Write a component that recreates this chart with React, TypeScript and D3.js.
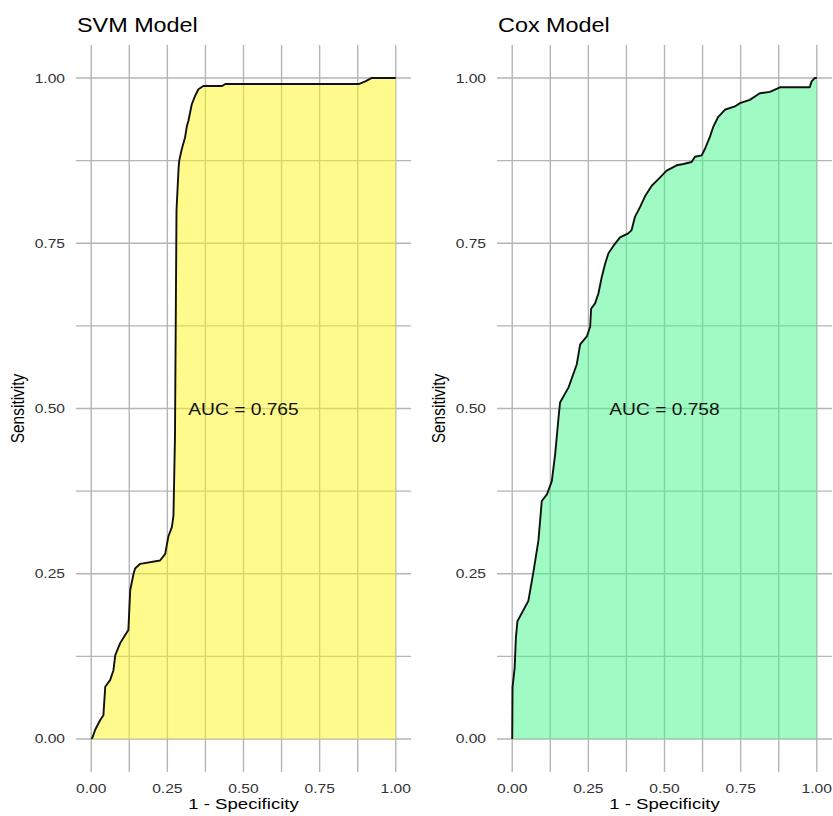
import * as d3 from "d3";

// ROC points (1 - specificity, sensitivity)
const svmFpr = [0, 0.004, 0.013, 0.03, 0.04, 0.046, 0.062, 0.073, 0.079, 0.095, 0.111, 0.122, 0.128, 0.139, 0.144, 0.161, 0.226, 0.243, 0.253, 0.265, 0.27, 0.275, 0.28, 0.287, 0.289, 0.297, 0.308, 0.314, 0.319, 0.33, 0.341, 0.352, 0.368, 0.43, 0.44, 0.88, 0.9, 0.92, 1.0];
const svmTpr = [0, 0.002, 0.014, 0.029, 0.036, 0.079, 0.089, 0.104, 0.127, 0.145, 0.157, 0.165, 0.225, 0.25, 0.258, 0.265, 0.27, 0.28, 0.306, 0.321, 0.338, 0.457, 0.8, 0.865, 0.875, 0.892, 0.91, 0.927, 0.935, 0.96, 0.973, 0.983, 0.988, 0.988, 0.991, 0.991, 0.995, 1.0, 1.0];

const coxFpr = [0, 0.001, 0.008, 0.012, 0.017, 0.053, 0.07, 0.086, 0.097, 0.114, 0.13, 0.141, 0.152, 0.157, 0.185, 0.212, 0.223, 0.245, 0.256, 0.259, 0.272, 0.283, 0.294, 0.305, 0.316, 0.332, 0.354, 0.381, 0.392, 0.403, 0.42, 0.436, 0.458, 0.48, 0.507, 0.54, 0.562, 0.589, 0.6, 0.622, 0.633, 0.649, 0.66, 0.676, 0.698, 0.731, 0.748, 0.78, 0.813, 0.846, 0.879, 0.977, 0.983, 0.993, 1.0];
const coxTpr = [0, 0.078, 0.108, 0.153, 0.178, 0.209, 0.254, 0.3, 0.36, 0.37, 0.39, 0.431, 0.486, 0.509, 0.532, 0.567, 0.597, 0.609, 0.624, 0.651, 0.659, 0.674, 0.699, 0.719, 0.735, 0.746, 0.759, 0.765, 0.77, 0.79, 0.805, 0.821, 0.837, 0.847, 0.86, 0.868, 0.87, 0.873, 0.881, 0.883, 0.893, 0.911, 0.926, 0.941, 0.952, 0.957, 0.962, 0.967, 0.977, 0.979, 0.986, 0.986, 0.995, 1.0, 1.0];

const titles = ["SVM Model", "Cox Model"];
const aucLabels = ["AUC = 0.765", "AUC = 0.758"];
const fills = ["#fff51a", "#41f587"];
const tickValues = [0, 0.25, 0.5, 0.75, 1];
const gridValues = [0, 0.125, 0.25, 0.375, 0.5, 0.625, 0.75, 0.875, 1];

const FONT = "'Liberation Sans', Arial, sans-serif";
const SX = 1.2; // the reference text is a bit wide

const Txt = ({ x, y, size, anchor = "start", fill = "#000", rotate = 0, children }) => (
  <text
    transform={`translate(${x},${y}) scale(${SX},1) rotate(${rotate})`}
    fontSize={size}
    textAnchor={anchor}
    fill={fill}
    fontFamily={FONT}
  >
    {children}
  </text>
);

const Panel = ({ left, fpr, tpr, title, auc, color }) => {
  const x = d3.scaleLinear().domain([-0.05, 1.05]).range([left, left + 335]);
  const y = d3.scaleLinear().domain([-0.05, 1.05]).range([772, 45]);
  const pts = fpr.map((f, i) => [f, tpr[i]]);

  const area = d3
    .area()
    .x((d) => x(d[0]))
    .y0(y(0))
    .y1((d) => y(d[1]));
  const line = d3
    .line()
    .x((d) => x(d[0]))
    .y((d) => y(d[1]));

  return (
    <g>
      {gridValues.map((v) => (
        <g key={v}>
          <line x1={x(v)} x2={x(v)} y1={y(1.05)} y2={y(-0.05)} stroke="#b5b5b5" strokeWidth={1.4} />
          <line x1={x(-0.05)} x2={x(1.05)} y1={y(v)} y2={y(v)} stroke="#b5b5b5" strokeWidth={1.4} />
        </g>
      ))}
      <path d={area(pts)} fill={color} fillOpacity={0.5} />
      <path d={line(pts)} fill="none" stroke="#111" strokeWidth={1.9} strokeLinejoin="round" />
      <Txt x={x(0.5)} y={y(0.5) + 6} size={16} anchor="middle" fill="#111">
        {auc}
      </Txt>
      {tickValues.map((v) => (
        <g key={v}>
          <Txt x={x(-0.05) - 11} y={y(v) + 4.5} size={13} anchor="end" fill="#333">
            {d3.format(".2f")(v)}
          </Txt>
          <Txt x={x(v)} y={793} size={13} anchor="middle" fill="#333">
            {d3.format(".2f")(v)}
          </Txt>
        </g>
      ))}
      <Txt x={x(0.5)} y={809} size={15.5} anchor="middle">
        1 - Specificity
      </Txt>
      <Txt x={x(-0.05) - 52} y={y(0.5)} size={15.5} anchor="middle" rotate={-90}>
        Sensitivity
      </Txt>
      <Txt x={x(-0.05) + 1} y={32} size={19.5}>
        {title}
      </Txt>
    </g>
  );
};

export default function App() {
  return (
    <div style={{ position: "absolute", left: 0, top: 0 }}>
      <svg width={833} height={816} style={{ display: "block", background: "#fff" }}>
        <Panel left={76} fpr={svmFpr} tpr={svmTpr} title={titles[0]} auc={aucLabels[0]} color={fills[0]} />
        <Panel left={497} fpr={coxFpr} tpr={coxTpr} title={titles[1]} auc={aucLabels[1]} color={fills[1]} />
      </svg>
    </div>
  );
}
